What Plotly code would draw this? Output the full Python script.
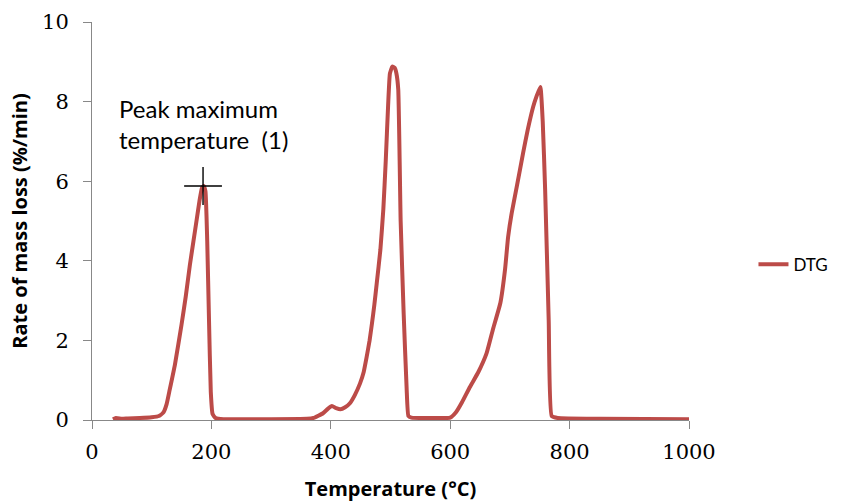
import plotly.graph_objects as go

# Data (Temperature in °C, DTG in %/min)
temperature = [35, 40, 50, 60, 80, 100, 112, 120, 125, 130, 139, 150, 157, 164, 170, 175,
               180, 184, 187, 190, 193, 196, 199, 202, 207, 220, 300, 360, 371, 387, 395,
               402, 409, 416, 424, 432, 440, 449, 455, 460, 465, 469, 473, 477, 483, 488,
               492, 496, 499, 503, 507, 510, 513, 517, 522, 527, 530, 535, 560, 600, 610,
               620, 633, 647, 661, 672, 684, 692, 697, 703, 712, 722, 730, 739, 745, 751,
               755, 759, 765, 770, 780, 850, 1000]
dtg = [0.02, 0.05, 0.03, 0.04, 0.05, 0.07, 0.1, 0.2, 0.4, 0.75, 1.4, 2.4, 3.1, 3.9, 4.5, 5.0,
       5.5, 5.82, 5.88, 5.75, 4.5, 2.5, 0.7, 0.15, 0.05, 0.02, 0.02, 0.03, 0.05, 0.17, 0.28,
       0.35, 0.3, 0.27, 0.32, 0.42, 0.62, 0.92, 1.2, 1.58, 2.0, 2.43, 2.9, 3.44, 4.27, 5.3,
       6.5, 7.9, 8.7, 8.88, 8.85, 8.7, 8.3, 5.0, 2.7, 0.8, 0.1, 0.06, 0.05, 0.06, 0.2,
       0.45, 0.83, 1.2, 1.68, 2.3, 2.94, 3.8, 4.6, 5.2, 5.9, 6.7, 7.3, 7.87, 8.15, 8.37,
       7.5, 5.8, 2.5, 0.1, 0.05, 0.03, 0.02]

marker_point = [186, 5.88]
x_ticks = [0, 200, 400, 600, 800, 1000]
y_ticks = [0, 2, 4, 6, 8, 10]

fig = go.Figure()
fig.add_trace(go.Scatter(
    x=temperature, y=dtg, mode="lines", name="DTG",
    line=dict(color="#BC4B48", width=4, shape="spline", smoothing=0.4),
))
fig.add_trace(go.Scatter(
    x=[marker_point[0]], y=[marker_point[1]], mode="markers", showlegend=False,
    marker=dict(symbol="cross-thin", size=27, line=dict(color="black", width=1.4)),
))

fig.add_annotation(
    x=marker_point[0], y=8.24, xref="x", yref="y",
    text="Peak maximum<br>temperature  (1)", showarrow=False, align="left",
    xanchor="center", yanchor="top",
    font=dict(family="Lato", size=24, color="black"),
)

tick_font = dict(family="DejaVu Serif", size=21, color="black")
title_font = dict(family="Open Sans", size=20, color="black", weight="bold")
fig.update_xaxes(
    range=[0, 1000], tickvals=x_ticks, showgrid=False, zeroline=False,
    showline=True, linecolor="#888888", linewidth=1,
    ticks="outside", ticklen=8, tickcolor="#888888",
    tickfont=tick_font, ticklabelstandoff=5,
    title=dict(text="Temperature (°C)", font=title_font, standoff=20),
)
fig.update_yaxes(
    range=[0, 10], tickvals=y_ticks, showgrid=False, zeroline=False,
    showline=True, linecolor="#888888", linewidth=1,
    ticks="outside", ticklen=8, tickcolor="#888888",
    tickfont=tick_font, ticklabelstandoff=10,
    title=dict(text="Rate of mass loss (%/min)", font=title_font, standoff=9),
)
fig.update_layout(
    width=853, height=502,
    margin=dict(l=92, r=164, t=22, b=82, autoexpand=False),
    plot_bgcolor="white", paper_bgcolor="white",
    legend=dict(x=1.108, y=0.39, xanchor="left", yanchor="middle",
                font=dict(family="Lato", size=17, color="black"),
                bgcolor="rgba(0,0,0,0)"),
)
fig.update_traces(selector=dict(name="DTG"), cliponaxis=False)
fig.write_html("out.html")
